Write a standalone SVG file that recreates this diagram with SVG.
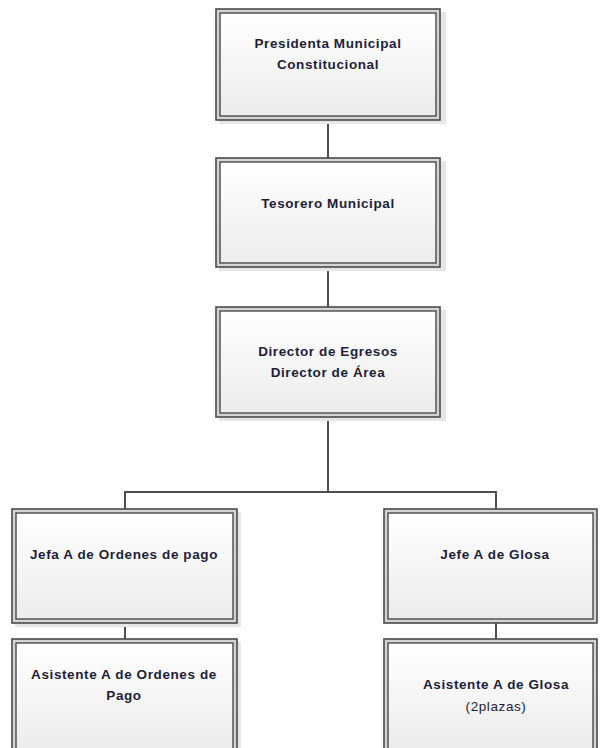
<svg xmlns="http://www.w3.org/2000/svg" width="600" height="748" viewBox="0 0 600 748">
<defs>
<linearGradient id="g" x1="0" y1="0" x2="0" y2="1">
<stop offset="0" stop-color="#ffffff"/>
<stop offset="1" stop-color="#ececec"/>
</linearGradient>
<style>
.sh{fill:#e6e6e6;stroke:none}
.o{fill:#d4d4d4;stroke:#4a4a4a;stroke-width:1.6}
.i{fill:url(#g);stroke:#4a4a4a;stroke-width:1.4}
.t{font-family:"Liberation Sans",Arial,sans-serif;font-weight:bold;font-size:13.5px;letter-spacing:0.6px;fill:#1e1e38;text-anchor:middle}
.n{font-weight:normal}
.c{stroke:#4f4f4f;stroke-width:2;fill:none}
</style>
</defs>
<rect width="600" height="748" fill="#ffffff"/>
<g id="connectors">
<line class="c" x1="328" y1="120" x2="328" y2="158"/>
<line class="c" x1="328" y1="267" x2="328" y2="307"/>
<line class="c" x1="328" y1="417" x2="328" y2="492"/>
<polyline class="c" points="125,509 125,492 496,492 496,509"/>
<line class="c" x1="125" y1="623" x2="125" y2="639"/>
<line class="c" x1="496" y1="623" x2="496" y2="639"/>
</g>
<g id="n1">
<rect class="sh" x="219" y="12" width="227" height="112"/>
<rect class="o" x="216" y="9" width="224" height="111"/>
<rect class="i" x="220" y="13" width="216" height="103"/>
<text class="t" x="328" y="48">Presidenta Municipal</text>
<text class="t" x="328" y="69">Constitucional</text>
</g>
<g id="n2">
<rect class="sh" x="219" y="161" width="227" height="110"/>
<rect class="o" x="216" y="158" width="224" height="109"/>
<rect class="i" x="220" y="162" width="216" height="101"/>
<text class="t" x="328" y="208">Tesorero Municipal</text>
</g>
<g id="n3">
<rect class="sh" x="219" y="310" width="227" height="111"/>
<rect class="o" x="216" y="307" width="224" height="110"/>
<rect class="i" x="220" y="311" width="216" height="102"/>
<text class="t" x="328" y="356">Director de Egresos</text>
<text class="t" x="328" y="377">Director de Área</text>
</g>
<g id="n4">
<rect class="sh" x="15" y="512" width="226" height="115"/>
<rect class="o" x="12" y="509" width="225" height="114"/>
<rect class="i" x="16" y="513" width="217" height="106"/>
<text class="t" x="124" y="559">Jefa A de Ordenes de pago</text>
</g>
<g id="n5">
<rect class="sh" x="15" y="642" width="226" height="115"/>
<rect class="o" x="12" y="639" width="225" height="114"/>
<rect class="i" x="16" y="643" width="217" height="106"/>
<text class="t" x="124" y="679">Asistente A de Ordenes de</text>
<text class="t" x="124" y="700">Pago</text>
</g>
<g id="n6">
<rect class="o" x="384" y="509" width="213" height="114"/>
<rect class="i" x="388" y="513" width="205" height="106"/>
<text class="t" x="495" y="559">Jefe A de Glosa</text>
</g>
<g id="n7">
<rect class="o" x="384" y="639" width="213" height="114"/>
<rect class="i" x="388" y="643" width="205" height="106"/>
<text class="t" x="496" y="689">Asistente A de Glosa</text>
<text class="t n" x="496" y="711">(2plazas)</text>
</g>
</svg>
